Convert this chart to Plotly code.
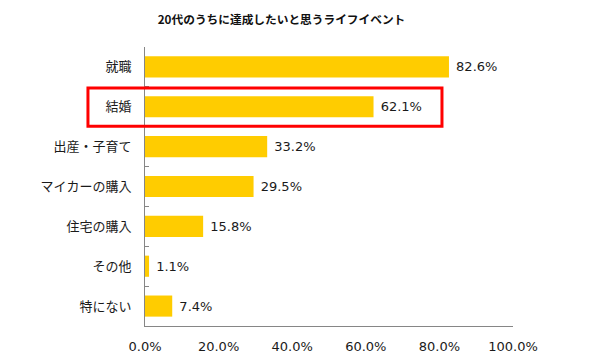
import plotly.graph_objects as go

title_text = "20代のうちに達成したいと思うライフイベント"
categories = ["就職", "結婚", "出産・子育て", "マイカーの購入", "住宅の購入", "その他", "特にない"]
values = [82.6, 62.1, 33.2, 29.5, 15.8, 1.1, 7.4]
x_ticks = [0, 20, 40, 60, 80, 100]
x_tick_labels = ["0.0%", "20.0%", "40.0%", "60.0%", "80.0%", "100.0%"]
highlight = "結婚"

FONT = "DejaVu Sans, Noto Sans CJK JP, sans-serif"
CJK = "Noto Sans CJK JP, sans-serif"

# page body has an 8px default margin; the figure is sized to fit the 600x360 window
W, H = 592, 352

fig = go.Figure(go.Bar(
    x=values,
    y=categories,
    orientation="h",
    marker=dict(color="#FFCC00", line=dict(width=0)),
    width=0.53,
    text=[f" {v:.1f}%" for v in values],
    textposition="outside",
    textfont=dict(family=FONT, size=13, color="#1a1a1a"),
    cliponaxis=False,
    hoverinfo="skip",
))

hi = categories.index(highlight)
fig.add_shape(
    type="rect",
    xref="x domain", yref="y",
    x0=-0.155, x1=0.807,
    y0=hi - 0.5 + 0.03, y1=hi + 0.5 - 0.01,
    line=dict(color="#FF0000", width=3),
    fillcolor="rgba(0,0,0,0)",
)

fig.update_layout(
    width=W, height=H,
    margin=dict(l=137, r=87, t=39, b=34, autoexpand=False),
    paper_bgcolor="white", plot_bgcolor="white",
    font=dict(family=FONT, size=13, color="#1a1a1a"),
    title=dict(text="<b>" + title_text + "</b>", x=273.5 / W, xanchor="center",
               y=1 - 12 / H, yanchor="middle",
               font=dict(family=CJK, size=11.7, color="#111")),
    showlegend=False,
)
fig.update_xaxes(
    range=[0, 100], tickvals=x_ticks, ticktext=x_tick_labels,
    showgrid=False, zeroline=False,
    showline=True, linecolor="#868686", linewidth=1,
    ticks="", ticklabelstandoff=8, automargin=False,
    tickfont=dict(family=FONT, size=13, color="#1a1a1a"),
    fixedrange=True,
)
fig.update_yaxes(
    autorange="reversed", type="category",
    showgrid=False, zeroline=False,
    showline=True, linecolor="#868686", linewidth=1,
    ticks="inside", ticklen=4, tickcolor="#868686", tickson="boundaries",
    ticklabelstandoff=10, automargin=False,
    tickfont=dict(family=CJK, size=13, color="#1a1a1a"),
    fixedrange=True,
)

fig.write_html("out.html")
